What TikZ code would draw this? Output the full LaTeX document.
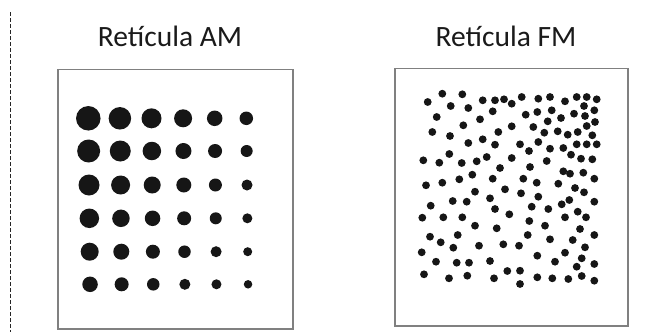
\documentclass[tikz,border=0pt]{standalone}
\usepackage{fontspec}
\setmainfont{Carlito}
\definecolor{boxgray}{HTML}{808080}
\definecolor{dotblack}{HTML}{161616}
\definecolor{txt}{HTML}{1A1A1A}
\tikzset{
  panelbox/.style={draw=boxgray, line width=1.6pt, fill=white, inner sep=0pt, anchor=north west},
  paneltitle/.style={font=\fontsize{29.5}{32}\selectfont, text=txt, anchor=base, inner sep=0pt},
  divider/.style={draw=black!85, line width=0.8pt, dash pattern=on 3.5pt off 2.5pt},
  dot/.style={fill=dotblack}
}
\begin{document}
\begin{tikzpicture}[x=1pt,y=-1pt]
\useasboundingbox (0,0) rectangle (668,332);
% divider
\coordinate (dtop) at (10,12);
\coordinate (dbot) at (10,332);
\draw[divider] (dtop) -- (dbot);
% titles
\node[paneltitle] (amTitle) at (170,46) {Retícula AM};
\node[paneltitle] (fmTitle) at (506,46) {Retícula FM};
% boxes
\node[panelbox, minimum width=235pt, minimum height=259.5pt] (amBox) at (57,68.5) {};
\node[panelbox, minimum width=233pt, minimum height=257.5pt] (fmBox) at (394,67.5) {};
% AM dots
\foreach \yy/\ds [count=\r] in {
  118.3/{24.5,22.5,20,18,15.5,13.5},
  151/{23,21,18.5,16,14,12},
  185/{21,19,17,15,13,11},
  218.3/{19.5,17.5,15.5,14,12,10},
  251.7/{18,16,14,12.5,11,9},
  284.3/{15.5,14,12.5,11,10,8.5}}{
  \foreach \d [count=\c] in \ds {
    \pgfmathsetmacro{\xx}{88.3+(\c-1)*31.6+(\r-1)*0.35}
    \fill[dot] (\xx,\yy) circle[radius={\d*0.5pt}];
  }
}
% FM dots
\foreach \p in {
(427.7,102),(442.3,93.7),(462.3,94.3),(450.7,106),(468.3,108),(482.7,100.3),(495,100.3),(504,99.3),(511.7,103.7),(492.7,111.3),
(436.7,117),(480,119.3),(463.3,125.3),(432.3,132),(450,136),(498.3,132),(511.7,126.3),(468.3,143),(482.7,139.3),(495,144.7),
(423.3,160.3),(439.3,162.7),(449.3,154),(461.7,163),(476.7,161.3),(486.7,157),(511.7,158),(500,168),(472.3,174.7),(459.3,179.3),
(442.3,182.7),(426,185.3),(492.7,178.7),(505,189.3),
(521.7,97),(538.3,98.7),(550,97),(565,101.3),(576.7,97),(586.7,97),(596.7,99.3),(584,106),(594.3,110.3),(525.7,114.7),
(537.3,112),(551.7,110.3),(561,118),(574,113.7),(585,116),(595,122),(547.7,121.3),(533.3,127),(544.3,132.7),(557.7,131.3),
(567.7,134.7),(577.7,132),(586.7,126),(592.3,135.3),(520,144.3),(538.3,142),(550,148.7),(563.3,148),(576.7,144.3),(586.7,144.3),
(596.7,144.3),(529,151),(546.7,161),(571,154.7),(581,158.7),(592.3,159.3),(530,167),(563.3,171.3),(570,173.7),(583.3,172.7),
(594.3,178.7),(523.3,178.7),(536.7,182.7),(558.3,183.7),(575,188),
(521,193.3),(538.3,196.7),(584,192.3),(594.3,201.7),(531.7,206.7),(548.3,209),(561.7,204.3),(569.3,200),(577.7,211.7),(565,217.3),
(586,217.3),(529.3,221),(545,225.7),(580,229),(527.7,235),(550,239.3),(572.7,240),(594.3,235),(519,245.7),(585,247.3),
(565,252.7),(537.3,255.7),(555,261.7),(581.7,258.3),(576.7,266.7),(594.3,264),(520,270.7),(581.7,276),(520,284),(537.3,277.3),
(552.3,278.3),(568.3,279),(594.3,280.7),
(475,191.7),(430.7,205.7),(452.7,201),(466.7,201.7),(490,198.3),(495,209),(509.3,214.3),(422.3,217.7),(443.3,217.3),(462.3,217.3),
(475,225.7),(496.7,228.3),(430,236.7),(440.7,242.3),(457.7,235),(453.3,247.7),(479,245.7),(503.3,244.3),(421.7,252.3),(436,261.7),
(456.7,262.7),(469,262.7),(490,261),(424,274.3),(449,278.3),(467.3,275.7),(494,278.3),(507.3,271)}{
  \fill[dot] \p circle[radius=3.9pt];
}
\end{tikzpicture}
\end{document}
